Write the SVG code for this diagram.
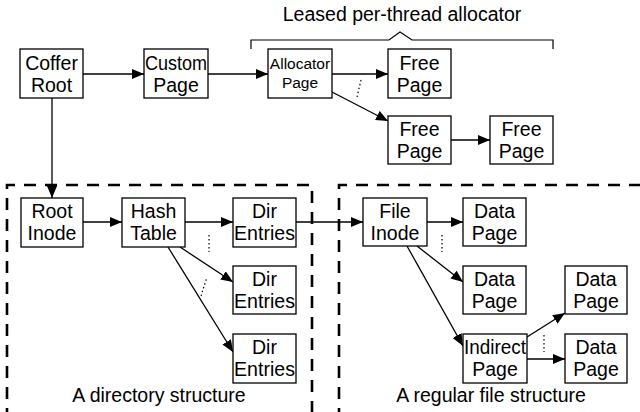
<svg xmlns="http://www.w3.org/2000/svg" width="640" height="412" viewBox="0 0 640 412">
<defs>
<marker id="arr" markerUnits="userSpaceOnUse" markerWidth="13" markerHeight="10" refX="12" refY="5" orient="auto">
<path d="M0,0 L12,5 L0,10 z" fill="#000"/>
</marker>
<style>
.box{fill:#fff;stroke:#000;stroke-width:1.3}
.t{font-family:"Liberation Sans",Arial,Helvetica,sans-serif;font-size:19.5px;fill:#000;text-anchor:middle}
.s{font-size:15.5px}
.c{fill:none;stroke:#000;stroke-width:1.3;marker-end:url(#arr)}
.d{fill:none;stroke:#000;stroke-width:1.2;stroke-dasharray:1.5 2.5}
.dash{fill:none;stroke:#000;stroke-width:2.6;stroke-dasharray:12 9}
</style>
</defs>
<rect width="640" height="412" fill="#fff"/>
<g id="regions">
<path class="dash" d="M7,420 V185 H312 V420"/>
<path class="dash" d="M339,420 V185 H645"/>
<path d="M251,49 V40 H389 L400,32 L412,40 H553 V49" fill="none" stroke="#000" stroke-width="1.2"/>
<text class="t" x="402" y="21">Leased per-thread allocator</text>
<text class="t" x="159" y="402">A directory structure</text>
<text class="t" x="491" y="402">A regular file structure</text>
</g>
<g id="connectors">
<path class="c" d="M83,74 H144"/>
<path class="c" d="M208,74 H268"/>
<path class="c" d="M332,74 H388"/>
<path class="c" d="M332,92 L388,121"/>
<path class="c" d="M451,140 H490"/>
<path class="c" d="M52,98 V198"/>
<path class="c" d="M83,222 H122"/>
<path class="c" d="M185,222 H233"/>
<path class="c" d="M180,247 L233,282"/>
<path class="c" d="M168,247 L233,352"/>
<path class="c" d="M296,222 H363"/>
<path class="c" d="M427,222 H463"/>
<path class="c" d="M417,246 L463,282"/>
<path class="c" d="M407,246 L463,346"/>
<path class="c" d="M527,337 L565,313"/>
<path class="c" d="M527,359 H565"/>
<path class="d" d="M357,97 L361,80"/>
<path class="d" d="M209,235 V252"/>
<path class="d" d="M201,296 L207,277"/>
<path class="d" d="M442,235 V252"/>
<path class="d" d="M544,335 V352"/>
</g>
<g id="coffer-root"><rect class="box" x="20" y="49" width="63" height="49"/><text class="t" x="51.5" y="70">Coffer</text><text class="t" x="51.5" y="92">Root</text></g>
<g id="custom-page"><rect class="box" x="144" y="49" width="64" height="49"/><text class="t" x="176" y="70" textLength="62" lengthAdjust="spacingAndGlyphs">Custom</text><text class="t" x="176" y="92">Page</text></g>
<g id="allocator-page"><rect class="box" x="268" y="49" width="64" height="49"/><text class="t s" x="300" y="69">Allocator</text><text class="t s" x="300" y="88">Page</text></g>
<g id="free-page-1"><rect class="box" x="388" y="49" width="63" height="49"/><text class="t" x="419.5" y="70">Free</text><text class="t" x="419.5" y="92">Page</text></g>
<g id="free-page-2"><rect class="box" x="388" y="116" width="63" height="48"/><text class="t" x="419.5" y="136">Free</text><text class="t" x="419.5" y="158">Page</text></g>
<g id="free-page-3"><rect class="box" x="490" y="116" width="63" height="48"/><text class="t" x="521.5" y="136">Free</text><text class="t" x="521.5" y="158">Page</text></g>
<g id="root-inode"><rect class="box" x="21" y="198" width="62" height="49"/><text class="t" x="52" y="218">Root</text><text class="t" x="52" y="240">Inode</text></g>
<g id="hash-table"><rect class="box" x="122" y="198" width="63" height="49"/><text class="t" x="153.5" y="218">Hash</text><text class="t" x="153.5" y="240">Table</text></g>
<g id="dir-entries-1"><rect class="box" x="233" y="198" width="63" height="49"/><text class="t" x="264.5" y="218">Dir</text><text class="t" x="264.5" y="240" textLength="61" lengthAdjust="spacingAndGlyphs">Entries</text></g>
<g id="dir-entries-2"><rect class="box" x="233" y="266" width="63" height="48"/><text class="t" x="264.5" y="286">Dir</text><text class="t" x="264.5" y="308" textLength="61" lengthAdjust="spacingAndGlyphs">Entries</text></g>
<g id="dir-entries-3"><rect class="box" x="233" y="334" width="63" height="49"/><text class="t" x="264.5" y="354">Dir</text><text class="t" x="264.5" y="376" textLength="61" lengthAdjust="spacingAndGlyphs">Entries</text></g>
<g id="file-inode"><rect class="box" x="363" y="198" width="64" height="48"/><text class="t" x="395" y="218">File</text><text class="t" x="395" y="240">Inode</text></g>
<g id="data-page-1"><rect class="box" x="463" y="198" width="63" height="48"/><text class="t" x="494.5" y="218">Data</text><text class="t" x="494.5" y="240">Page</text></g>
<g id="data-page-2"><rect class="box" x="463" y="266" width="63" height="48"/><text class="t" x="494.5" y="286">Data</text><text class="t" x="494.5" y="308">Page</text></g>
<g id="indirect-page"><rect class="box" x="463" y="334" width="64" height="49"/><text class="t" x="495" y="354" textLength="62" lengthAdjust="spacingAndGlyphs">Indirect</text><text class="t" x="495" y="376">Page</text></g>
<g id="data-page-3"><rect class="box" x="565" y="266" width="62" height="48"/><text class="t" x="596" y="286">Data</text><text class="t" x="596" y="308">Page</text></g>
<g id="data-page-4"><rect class="box" x="565" y="334" width="62" height="49"/><text class="t" x="596" y="354">Data</text><text class="t" x="596" y="376">Page</text></g>
</svg>
